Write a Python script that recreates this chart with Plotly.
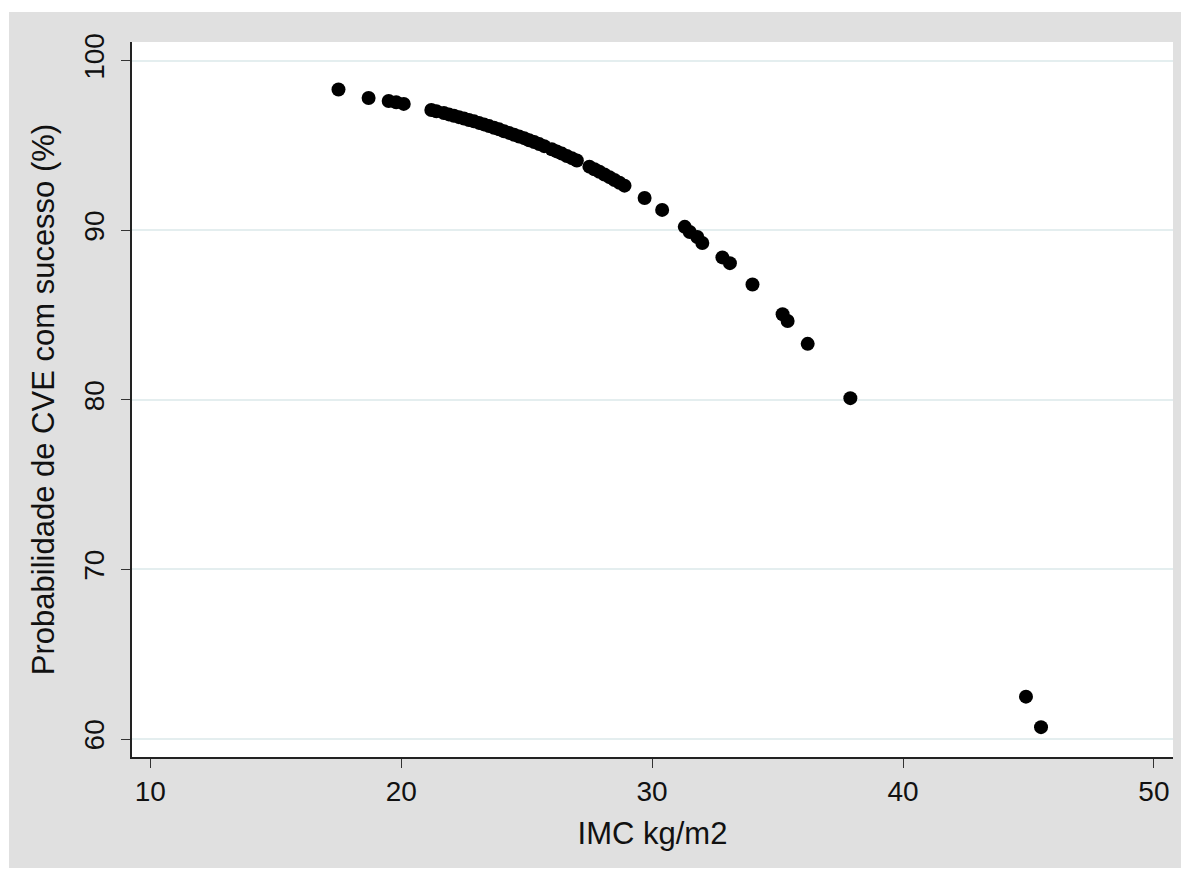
import plotly.graph_objects as go

# Data
imc = [17.5, 18.7, 19.5, 19.8, 20.1,
       21.2, 21.4, 21.7, 21.9, 22.1, 22.3, 22.5, 22.7, 22.9, 23.1, 23.3, 23.5,
       23.7, 23.9, 24.1, 24.3, 24.5, 24.7, 24.9, 25.1, 25.3, 25.5, 25.7,
       26.0, 26.2, 26.4, 26.6, 26.8, 27.0,
       27.5, 27.7, 27.9, 28.1, 28.3, 28.5, 28.7, 28.9,
       29.7, 30.4, 31.3, 31.5, 31.8, 32.0, 32.8, 33.1, 34.0,
       35.2, 35.4, 36.2, 37.9, 44.9, 45.5]
prob = [98.3, 97.8, 97.62, 97.55, 97.45,
        97.09, 97.02, 96.91, 96.83, 96.75, 96.67, 96.59, 96.50, 96.42, 96.33, 96.24, 96.14,
        96.04, 95.95, 95.84, 95.74, 95.63, 95.53, 95.43, 95.31, 95.20, 95.08, 94.96,
        94.78, 94.65, 94.52, 94.38, 94.25, 94.11,
        93.75, 93.60, 93.45, 93.29, 93.13, 92.96, 92.80, 92.63,
        91.9, 91.2, 90.2, 89.9, 89.6, 89.25, 88.4, 88.06, 86.8,
        85.05, 84.65, 83.3, 80.1, 62.5, 60.7]

x_ticks = [10, 20, 30, 40, 50]
y_ticks = [60, 70, 80, 90, 100]
x_title = "IMC kg/m2"
y_title = "Probabilidade de CVE com sucesso (%)"

# page body adds an 8px margin, so the figure covers the window minus that
W, H = 1181, 862
ml, mr, mt, mb = 124, 16, 34, 113
font_family = "Liberation Sans, Arial, sans-serif"

fig = go.Figure()
fig.add_trace(go.Scatter(
    x=imc, y=prob, mode="markers",
    marker=dict(color="black", size=14, line=dict(width=0)),
    showlegend=False, hoverinfo="skip",
))

pw = W - ml - mr
ph = H - mt - mb
# white strips outside the grey frame (top, bottom, left)
fig.add_shape(type="rect", xref="paper", yref="paper",
              x0=-ml / pw, x1=(W - ml) / pw,
              y0=(ph + mt - 4) / ph, y1=(ph + mt) / ph,
              fillcolor="white", line_width=0, layer="below")
fig.add_shape(type="rect", xref="paper", yref="paper",
              x0=-ml / pw, x1=(W - ml) / pw,
              y0=-mb / ph, y1=(-mb + 2) / ph,
              fillcolor="white", line_width=0, layer="below")
fig.add_shape(type="rect", xref="paper", yref="paper",
              x0=-ml / pw, x1=(1 - ml) / pw,
              y0=-mb / ph, y1=(ph + mt) / ph,
              fillcolor="white", line_width=0, layer="below")

fig.update_layout(
    width=W, height=H,
    margin=dict(l=ml, r=mr, t=mt, b=mb, pad=0),
    paper_bgcolor="#e0e0e0",
    plot_bgcolor="white",
    font=dict(family=font_family, color="#111111", size=28),
    xaxis=dict(
        range=[9.27, 50.76], tickvals=x_ticks, ticktext=[str(v) for v in x_ticks],
        showgrid=False, zeroline=False,
        showline=True, linecolor="#222222", linewidth=1.5,
        ticks="outside", ticklen=9, tickwidth=1.2, tickcolor="#333333",
        tickfont=dict(size=28),
        title=dict(text=x_title, font=dict(size=31), standoff=16),
        automargin=False,
    ),
    yaxis=dict(
        range=[58.94, 101.1], tickvals=y_ticks, ticktext=[str(v) for v in y_ticks],
        showgrid=True, gridcolor="#e4eeef", gridwidth=2,
        zeroline=False,
        showline=True, linecolor="#222222", linewidth=1.5,
        ticks="outside", ticklen=9, tickwidth=1.2, tickcolor="#333333",
        tickangle=-90, tickfont=dict(size=28), ticklabelstandoff=6,
        title=dict(text=y_title, font=dict(size=31), standoff=15),
        automargin=False,
    ),
)

fig.write_html("out.html", config={"displayModeBar": False})
